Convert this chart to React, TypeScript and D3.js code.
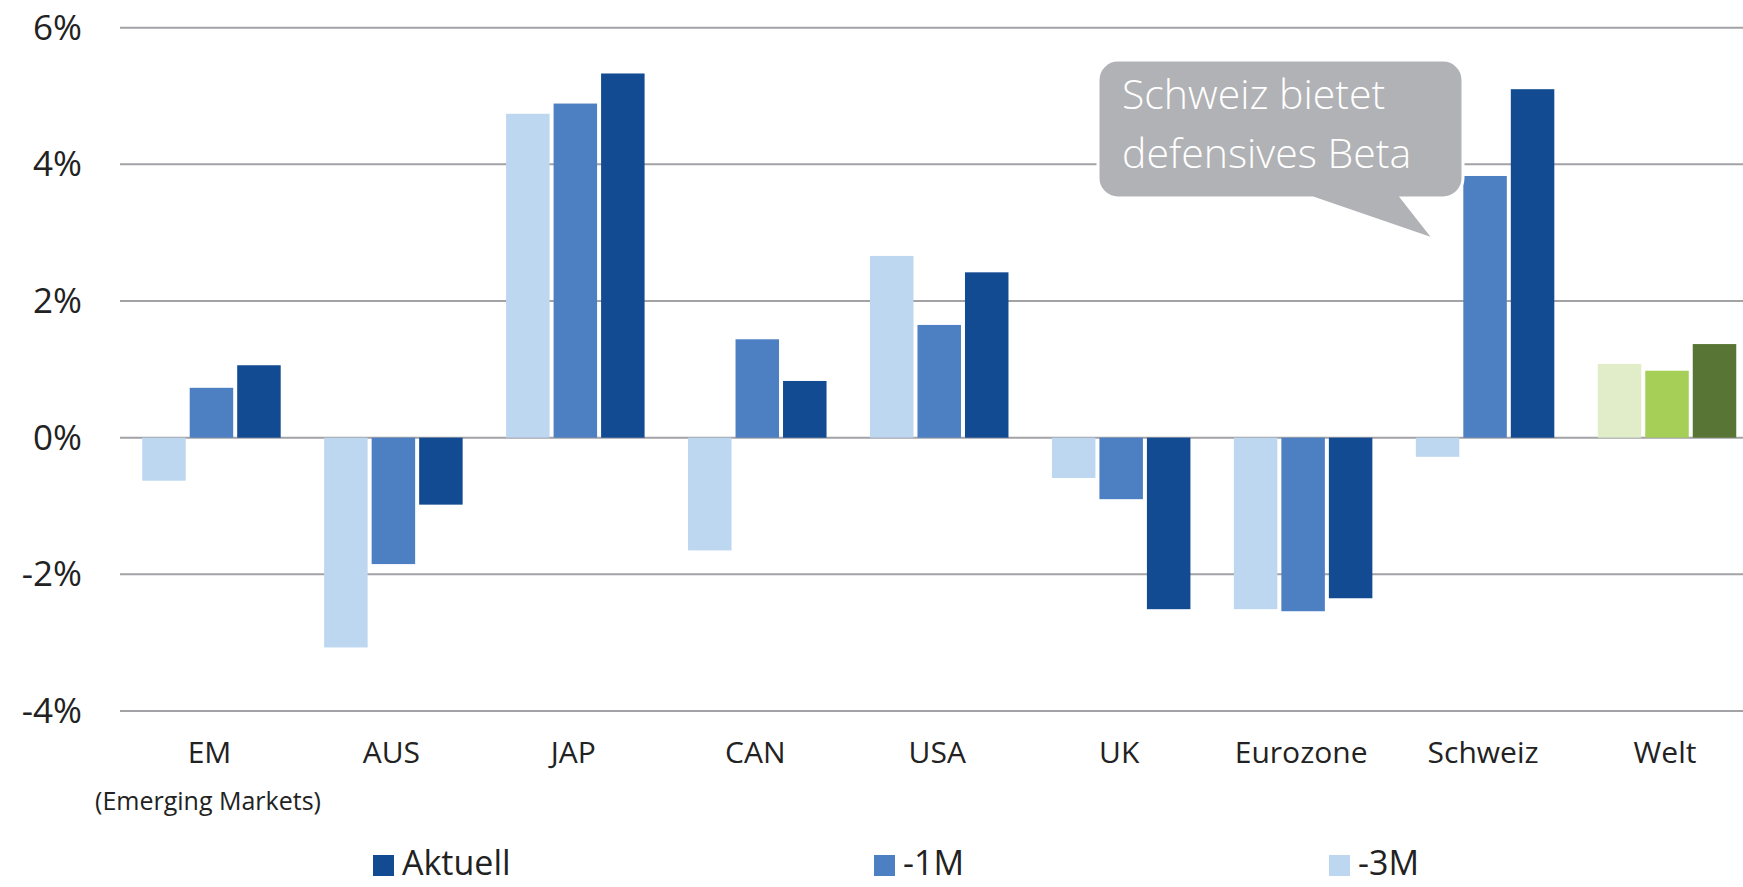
import React, { useEffect, useRef } from "react";
import * as d3 from "d3";

const categories = ["EM", "AUS", "JAP", "CAN", "USA", "UK", "Eurozone", "Schweiz", "Welt"];
const seriesNames = ["-3M", "-1M", "Aktuell"];
const aktuell = [1.06, -0.98, 5.33, 0.83, 2.42, -2.51, -2.35, 5.1, 1.37];
const minus1M = [0.73, -1.85, 4.89, 1.44, 1.65, -0.9, -2.54, 3.83, 0.98];
const minus3M = [-0.63, -3.07, 4.74, -1.65, 2.66, -0.59, -2.51, -0.28, 1.08];
const yTicks = [-4, -2, 0, 2, 4, 6];
const legendItems = ["Aktuell", "-1M", "-3M"];
const calloutLines = ["Schweiz bietet", "defensives Beta"];

const blue: Record<string, string> = { "-3M": "#bdd7f0", "-1M": "#4d80c2", Aktuell: "#124b91" };
const green: Record<string, string> = { "-3M": "#e1edc9", "-1M": "#a6cf58", Aktuell: "#587535" };

const W = 1743;
const H = 887;
const FONT = "'Open Sans', 'Noto Sans', sans-serif";

export default function App() {
	const ref = useRef<SVGSVGElement | null>(null);

	useEffect(() => {
		const svg = d3.select(ref.current);
		svg.selectAll("*").remove();

		const values: Record<string, number[]> = { "-3M": minus3M, "-1M": minus1M, Aktuell: aktuell };

		const y = d3.scaleLinear().domain([-4, 6]).range([711, 27.7]);
		const x = d3.scaleBand().domain(categories).range([120.5, 1758]).paddingInner(0);
		const xInner = d3.scaleBand().domain(seriesNames).range([21.7, 160.2]).paddingInner(0.0842).paddingOuter(0);

		// gridlines
		svg.append("g")
			.selectAll("line")
			.data(yTicks)
			.join("line")
			.attr("x1", 120)
			.attr("x2", W)
			.attr("y1", (d) => y(d))
			.attr("y2", (d) => y(d))
			.attr("stroke", "#a2a2a7")
			.attr("stroke-width", 2);

		// y labels
		svg.append("g")
			.selectAll("text")
			.data(yTicks)
			.join("text")
			.attr("x", 82)
			.attr("y", (d) => y(d) + 12)
			.attr("text-anchor", "end")
			.attr("font-family", FONT)
			.attr("font-size", 35)
			.attr("fill", "#222")
			.text((d) => `${d}%`);

		// bars
		const groups = svg.append("g")
			.selectAll("g")
			.data(categories)
			.join("g")
			.attr("transform", (d) => `translate(${x(d)},0)`);

		groups.selectAll("rect")
			.data((c, i) => seriesNames.map((s) => ({ c, s, v: values[s][i] })))
			.join("rect")
			.attr("x", (d) => xInner(d.s)!)
			.attr("width", xInner.bandwidth())
			.attr("y", (d) => y(Math.max(0, d.v)))
			.attr("height", (d) => Math.abs(y(d.v) - y(0)))
			.attr("fill", (d) => (d.c === "Welt" ? green[d.s] : blue[d.s]));

		// x labels
		svg.append("g")
			.selectAll("text")
			.data(categories)
			.join("text")
			.attr("x", (d) => x(d)! + x.bandwidth() / 2 - 2)
			.attr("y", 763)
			.attr("text-anchor", "middle")
			.attr("font-family", FONT)
			.attr("font-size", 30)
			.attr("fill", "#222")
			.text((d) => d);

		svg.append("text")
			.attr("x", 208)
			.attr("y", 810)
			.attr("text-anchor", "middle")
			.attr("font-family", FONT)
			.attr("font-size", 25)
			.attr("fill", "#222")
			.text("(Emerging Markets)");

		// legend
		const legendX = [373, 874, 1329];
		const legend = svg.append("g")
			.selectAll("g")
			.data(legendItems)
			.join("g")
			.attr("transform", (d, i) => `translate(${legendX[i]},0)`);
		legend.append("rect")
			.attr("x", 0)
			.attr("y", 855)
			.attr("width", 21)
			.attr("height", 21)
			.attr("fill", (d) => blue[d]);
		legend.append("text")
			.attr("x", 29)
			.attr("y", 875)
			.attr("font-family", FONT)
			.attr("font-size", 34)
			.attr("fill", "#222")
			.text((d) => d);

		// callout bubble
		const bx0 = 1098, bx1 = 1463, by0 = 60, by1 = 198, r = 20;
		const path = d3.path();
		path.moveTo(bx0 + r, by0);
		path.lineTo(bx1 - r, by0);
		path.arcTo(bx1, by0, bx1, by0 + r, r);
		path.lineTo(bx1, by1 - r);
		path.arcTo(bx1, by1, bx1 - r, by1, r);
		path.lineTo(1402, by1);
		path.lineTo(1435, 240);
		path.lineTo(1313, by1);
		path.lineTo(bx0 + r, by1);
		path.arcTo(bx0, by1, bx0, by1 - r, r);
		path.lineTo(bx0, by0 + r);
		path.arcTo(bx0, by0, bx0 + r, by0, r);
		path.closePath();
		svg.append("path")
			.attr("d", path.toString())
			.attr("fill", "#b1b2b5")
			.attr("stroke", "#fff")
			.attr("stroke-width", 3);

		svg.append("g")
			.selectAll("text")
			.data(calloutLines)
			.join("text")
			.attr("x", 1122)
			.attr("y", (d, i) => 109 + i * 59)
			.attr("font-family", FONT)
			.attr("font-size", 41)
			.attr("font-weight", 300)
			.attr("fill", "#fff")
			.text((d) => d);
	}, []);

	return (
		<svg
			ref={ref}
			width={W}
			height={H}
			style={{ position: "absolute", left: 0, top: 0, background: "#fff" }}
		/>
	);
}
